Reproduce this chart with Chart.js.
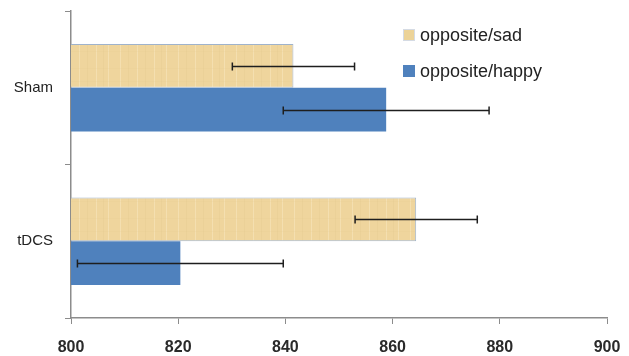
<!DOCTYPE html>
<html>
<head>
<meta charset="utf-8">
<script src="https://cdn.jsdelivr.net/npm/chart.js@4"></script>
<style>
  html,body{margin:0;padding:0;background:#fff;}
  #wrap{width:629px;height:356px;}
</style>
</head>
<body>
<div id="wrap"><canvas id="c" width="629" height="356"></canvas></div>
<script>
const groups = ['Sham', 'tDCS'];
const seriesNames = ['opposite/sad', 'opposite/happy'];
const sadValues = [841.5, 864.4];
const happyValues = [858.8, 820.4];
const sadErrors = [11.4, 11.4];
const happyErrors = [19.2, 19.2];
const xTicks = [800, 820, 840, 860, 880, 900];

// soft papyrus-like texture for the sad bars
function makePattern(){
  const p = document.createElement('canvas');
  p.width = 58; p.height = 30;
  const g = p.getContext('2d');
  g.fillStyle = '#efd59d';
  g.fillRect(0,0,58,30);
  g.lineWidth = 1;
  g.strokeStyle = 'rgba(250,236,200,0.45)';
  [4,21,38,50].forEach(x=>{ g.beginPath(); g.moveTo(x+0.5,0); g.lineTo(x+0.5,30); g.stroke(); });
  g.strokeStyle = 'rgba(215,188,130,0.15)';
  [12,29,45].forEach(x=>{ g.beginPath(); g.moveTo(x+0.5,0); g.lineTo(x+0.5,30); g.stroke(); });
  g.strokeStyle = 'rgba(220,195,140,0.12)';
  [8,21].forEach(y=>{ g.beginPath(); g.moveTo(0,y+0.5); g.lineTo(58,y+0.5); g.stroke(); });
  return g.createPattern(p, 'repeat');
}

const ctx = document.getElementById('c').getContext('2d');
const sadFill = makePattern();

const errorBars = {
  id:'errorBars',
  afterDatasetsDraw(chart){
    const c = chart.ctx, xs = chart.scales.x;
    const errs = [sadErrors, happyErrors];
    c.save();
    c.strokeStyle = '#1e1e1e';
    c.lineWidth = 1.5;
    chart.data.datasets.forEach((ds, di)=>{
      chart.getDatasetMeta(di).data.forEach((bar, i)=>{
        const v = ds.data[i], e = errs[di][i];
        const x1 = xs.getPixelForValue(v - e), x2 = xs.getPixelForValue(v + e);
        const y = Math.round(bar.y) + 0.5;
        c.beginPath();
        c.moveTo(x1, y); c.lineTo(x2, y);
        c.moveTo(x1, y-4); c.lineTo(x1, y+4);
        c.moveTo(x2, y-4); c.lineTo(x2, y+4);
        c.stroke();
      });
    });
    c.restore();
  }
};

const sideLegend = {
  id:'sideLegend',
  afterDraw(chart){
    const c = chart.ctx;
    c.save();
    c.font = '18px "Liberation Sans", Arial, sans-serif';
    c.textBaseline = 'middle';
    const rows = [35, 71];
    chart.data.datasets.forEach((ds, i)=>{
      const y = rows[i];
      c.fillStyle = i === 0 ? '#ecd398' : ds.backgroundColor;
      c.fillRect(403, y-6, 12, 12);
      if(i === 0){ c.strokeStyle = '#d5dbe4'; c.lineWidth = 1; c.strokeRect(403.5, y-5.5, 11, 11); }
      c.fillStyle = '#222';
      c.fillText(ds.label, 420, y+1);
    });
    c.restore();
  }
};

new Chart(ctx, {
  type:'bar',
  data:{
    labels: groups,
    datasets:[
      {label: seriesNames[0], data: sadValues, backgroundColor: sadFill, borderColor:'#9fb3cc', borderWidth:1, borderDash:[1,1],
       categoryPercentage:0.57, barPercentage:1},
      {label: seriesNames[1], data: happyValues, backgroundColor:'#4f81bd', borderWidth:0,
       categoryPercentage:0.57, barPercentage:1}
    ]
  },
  options:{
    indexAxis:'y',
    responsive:false,
    animation:false,
    layout:{padding:{top:11, right:22, left:0, bottom:0}},
    plugins:{legend:{display:false}, tooltip:{enabled:false}},
    scales:{
      x:{
        min:800, max:900,
        afterBuildTicks(s){ s.ticks = xTicks.map(v=>({value:v})); },
        grid:{drawOnChartArea:false, color:'#8c8c8c', tickLength:6, lineWidth:1},
        border:{color:'#8c8c8c', width:1.5},
        ticks:{color:'#2a2a2a', font:{family:'"Liberation Sans", Arial, sans-serif', size:16, weight:'bold'}, padding:14},
        afterFit(s){ s.height = 38; s.paddingLeft = 0; s.paddingRight = 0; }
      },
      y:{
        grid:{drawOnChartArea:false, color:'#8c8c8c', tickLength:6, offset:true},
        border:{color:'#8c8c8c', width:1.5},
        ticks:{color:'#222', font:{family:'"Liberation Sans", Arial, sans-serif', size:15}, padding:12},
        afterFit(s){ s.width = 71; s.paddingTop = 0; s.paddingBottom = 0; }
      }
    }
  },
  plugins:[errorBars, sideLegend]
});
</script>
</body>
</html>
